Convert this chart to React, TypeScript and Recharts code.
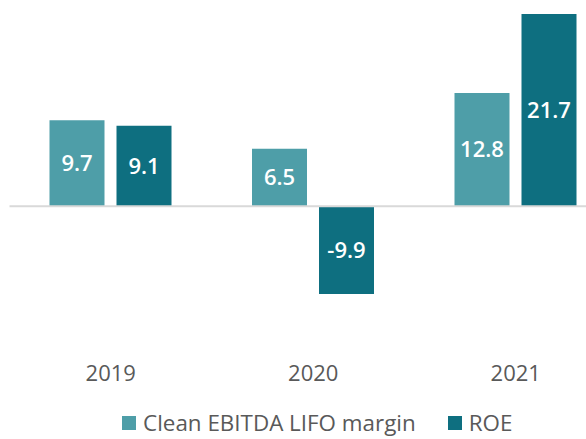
import { BarChart, Bar, XAxis, YAxis, ReferenceLine, Legend, LabelList } from "recharts";

const years = ["2019", "2020", "2021"];
const ebitdaMargin = [9.7, 6.5, 12.8];
const roe = [9.1, -9.9, 21.7];

const data = years.map((year, i) => ({
  year,
  ebitda: ebitdaMargin[i],
  roe: roe[i],
}));

const LIGHT = "#4e9ea8";
const DARK = "#0e6f80";
const FONT = "'Open Sans', 'Noto Sans', sans-serif";

// legend drawn from recharts payload, spaced like the original
const LegendContent = ({ payload }: { payload?: Array<{ value: string; color: string }> }) => (
  <div style={{ display: "flex", justifyContent: "center", gap: 32, fontFamily: FONT, paddingLeft: 8, paddingBottom: 4 }}>
    {(payload || []).map((entry, index) => (
      <div key={index} style={{ display: "flex", alignItems: "center", height: 24 }}>
        <span style={{ width: 14, height: 14, background: entry.color, display: "inline-block", marginRight: 7 }} />
        <span style={{ fontSize: 22.4, color: "#595959", lineHeight: "24px" }}>{entry.value}</span>
      </div>
    ))}
  </div>
);

export default function App() {
  return (
    <div style={{ position: "absolute", left: 0, top: 0, width: 586, height: 439, overflow: "hidden", background: "#fff" }}>
      <BarChart
        width={627}
        height={439}
        data={data}
        margin={{ top: 14, right: 10, left: 9.5, bottom: 0 }}
        barSize={55}
        barGap={12}
      >
        <XAxis
          dataKey="year"
          axisLine={false}
          tickLine={false}
          height={54}
          tick={{ fill: "#595959", fontSize: 22, fontFamily: FONT }}
        />
        <YAxis hide domain={[-17, 21.7]} allowDataOverflow />
        <ReferenceLine y={0} stroke="#d9d9d9" strokeWidth={2} />
        <Legend verticalAlign="bottom" content={<LegendContent />} />
        <Bar dataKey="ebitda" name="Clean EBITDA LIFO margin" fill={LIGHT} isAnimationActive={false}>
          <LabelList dataKey="ebitda" position="center" fill="#fff" fontSize={22} fontWeight={600} fontFamily={FONT} />
        </Bar>
        <Bar dataKey="roe" name="ROE" fill={DARK} isAnimationActive={false}>
          <LabelList dataKey="roe" position="center" fill="#fff" fontSize={22} fontWeight={600} fontFamily={FONT} />
        </Bar>
      </BarChart>
    </div>
  );
}
